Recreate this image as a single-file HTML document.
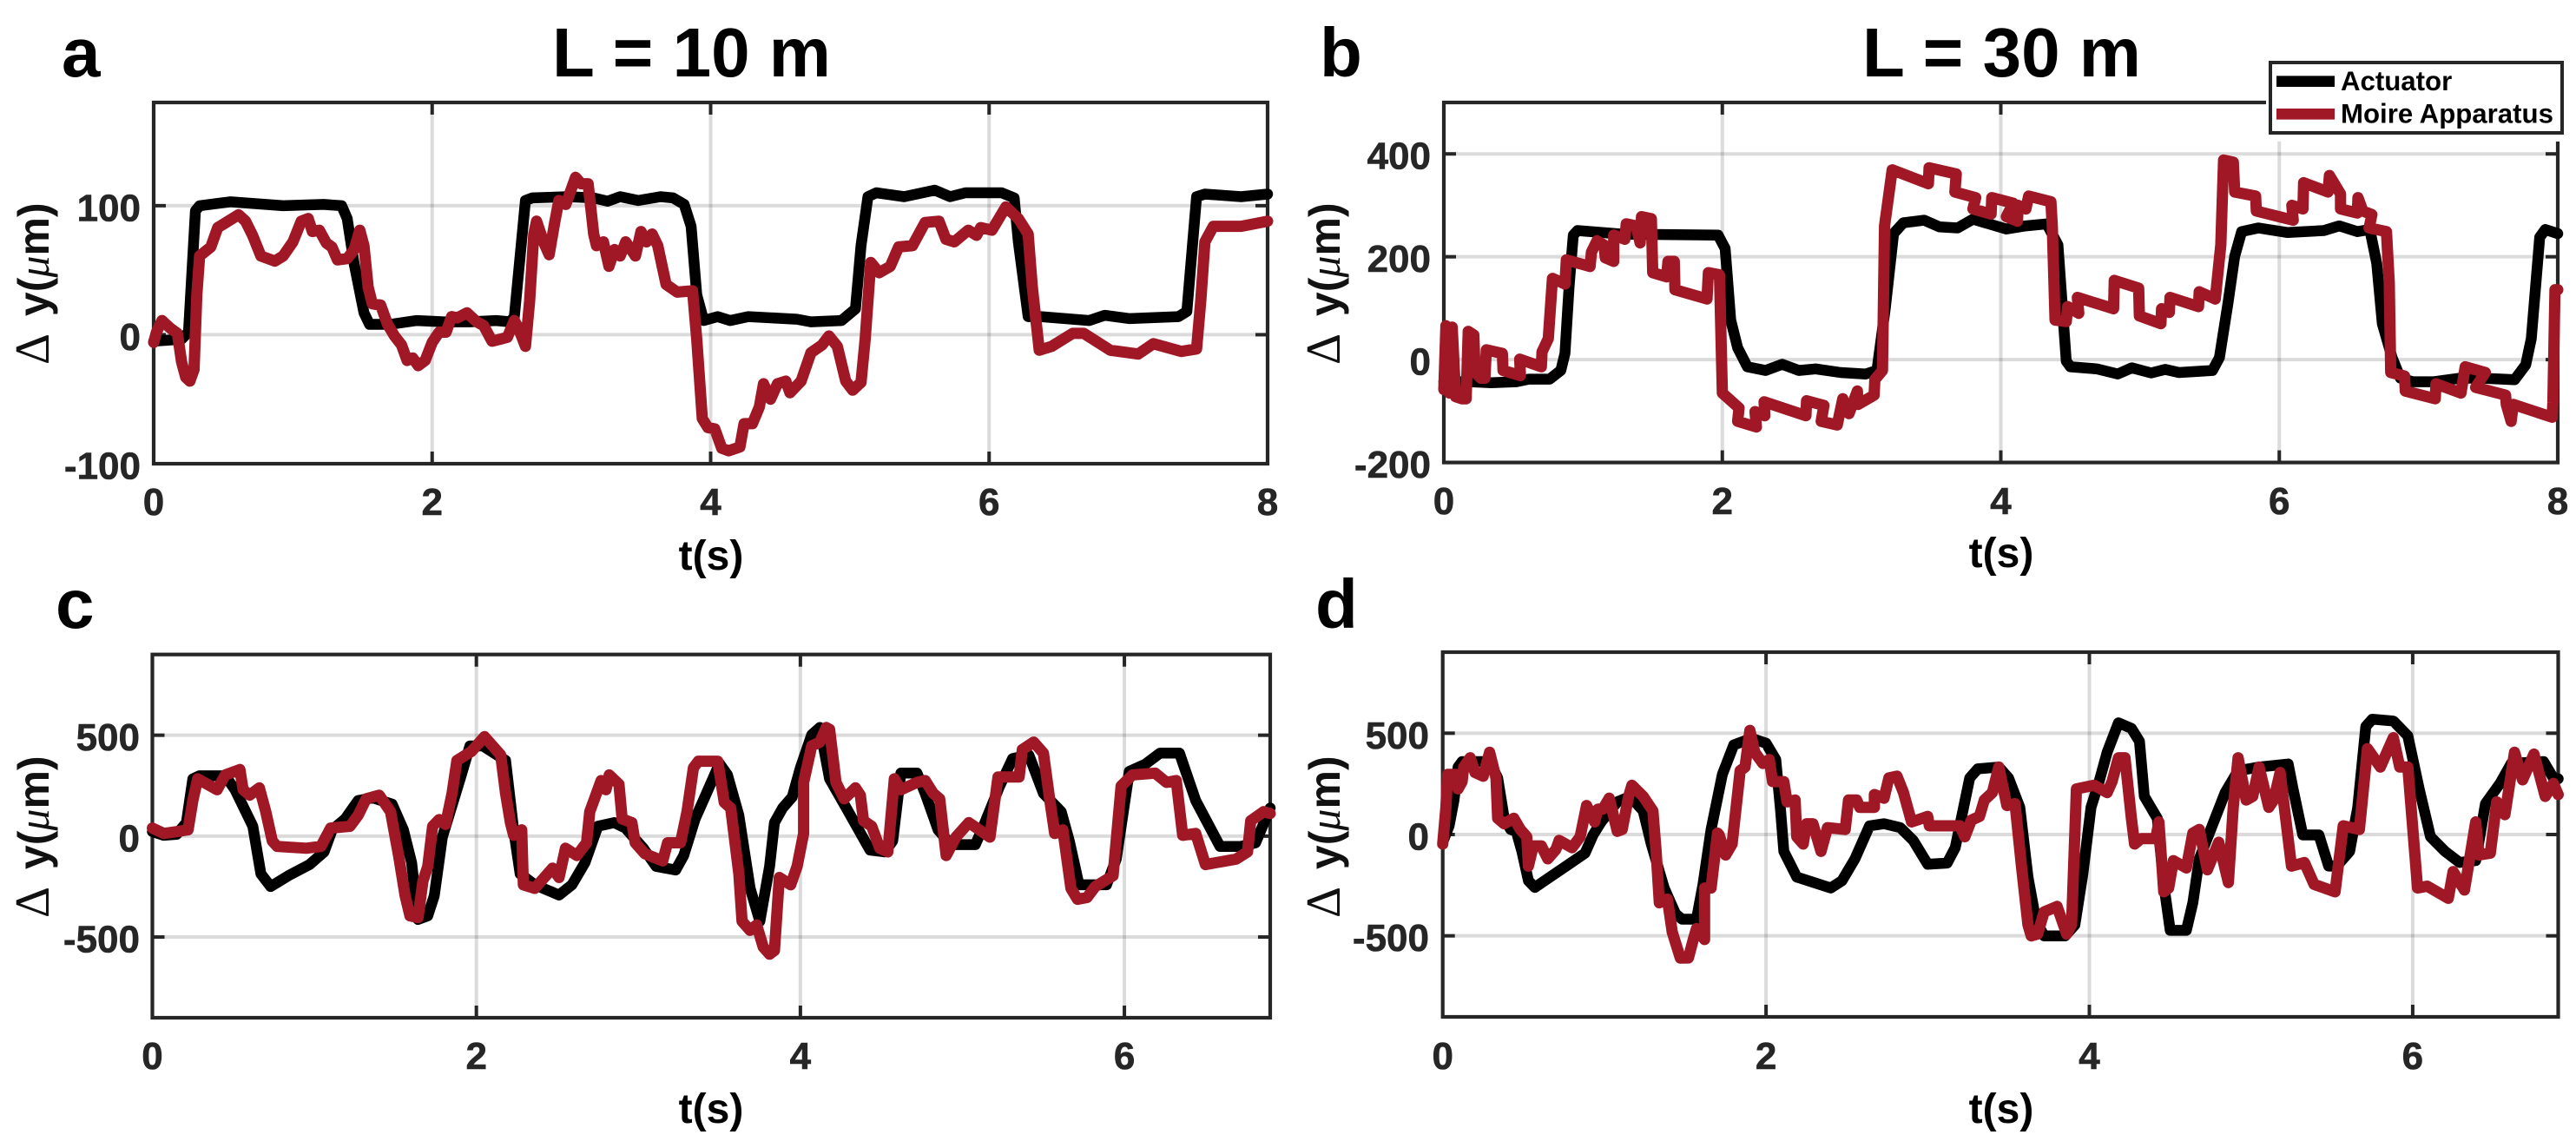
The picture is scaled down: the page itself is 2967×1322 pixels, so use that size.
<!DOCTYPE html>
<html lang="en">
<head>
<meta charset="utf-8">
<title>Actuator vs Moire Apparatus displacement</title>
<style>
html,body{margin:0;padding:0;background:#fff;}
svg{display:block;font-family:"Liberation Sans",Arial,sans-serif;}
.panel-letter{font-size:80px;font-weight:700;fill:#000;}
.panel-title{font-size:80px;font-weight:700;fill:#000;}
.x-title{font-size:48px;font-weight:700;fill:#000;text-anchor:middle;}
.y-title{font-size:50px;font-weight:700;fill:#111;text-anchor:start;}
.y-title .sym{font-family:"Liberation Serif",serif;font-weight:400;font-size:56px;}
.y-title .mu{font-family:"Liberation Serif",serif;font-style:italic;font-weight:400;}
.tick-text{font-size:44px;font-weight:700;fill:#262626;stroke:#262626;stroke-width:.6px;}
.legend-text{font-size:31.2px;font-weight:700;fill:#000;}
</style>
</head>
<body>
<svg id="chart" xmlns="http://www.w3.org/2000/svg" width="2967" height="1322" viewBox="0 0 2967 1322">
  <rect x="0" y="0" width="2967" height="1322" fill="#fff"/>
  <g id="plots"></g>

  <text class="panel-letter" x="71" y="88">a</text>
  <text class="panel-letter" x="1520" y="88">b</text>
  <text class="panel-letter" x="64" y="723">c</text>
  <text class="panel-letter" x="1515" y="723">d</text>
  <text class="panel-title" x="636" y="88">L = 10 m</text>
  <text class="panel-title" x="2145" y="88">L = 30 m</text>

  <text class="x-title" x="819" y="656">t(s)</text>
  <text class="x-title" x="2305" y="653">t(s)</text>
  <text class="x-title" x="819" y="1293">t(s)</text>
  <text class="x-title" x="2305" y="1293">t(s)</text>

  <text class="y-title" transform="translate(56,420) rotate(-90)"><tspan class="sym">Δ</tspan> <tspan dx="6">y(</tspan><tspan class="mu">μ</tspan>m)</text>
  <text class="y-title" transform="translate(1543,420) rotate(-90)"><tspan class="sym">Δ</tspan> <tspan dx="6">y(</tspan><tspan class="mu">μ</tspan>m)</text>
  <text class="y-title" transform="translate(56,1057) rotate(-90)"><tspan class="sym">Δ</tspan> <tspan dx="6">y(</tspan><tspan class="mu">μ</tspan>m)</text>
  <text class="y-title" transform="translate(1543,1057) rotate(-90)"><tspan class="sym">Δ</tspan> <tspan dx="6">y(</tspan><tspan class="mu">μ</tspan>m)</text>

  <g>
    <rect x="2610" y="64" width="357" height="99" fill="#fff"/>
    <rect x="2615" y="72" width="336" height="81" fill="#fff" stroke="#262626" stroke-width="4"/>
    <line x1="2622" y1="93.7" x2="2689" y2="93.7" stroke="#000" stroke-width="12.7"/>
    <text class="legend-text" x="2696" y="104">Actuator</text>
    <line x1="2622" y1="131.3" x2="2689" y2="131.3" stroke="#a01825" stroke-width="12.7"/>
    <text class="legend-text" x="2696" y="141.7">Moire Apparatus</text>
  </g>
</svg>
<script>
// ---- Panel a data ----
const aXTicks = [0, 2, 4, 6, 8];
const aYTicks = [-100, 0, 100];
const aActuatorT = [0,.20,.25,.30,.33,.55,.93,1.22,1.35,1.39,1.44,1.51,1.55,1.70,1.89,2.08,2.27,2.46,2.56,2.59,2.67,2.72,2.97,3.16,3.26,3.35,3.48,3.64,3.73,3.81,3.86,3.90,3.95,4.05,4.14,4.27,4.62,4.72,4.94,5.04,5.08,5.13,5.19,5.39,5.61,5.72,5.83,6.09,6.18,6.21,6.28,6.37,6.72,6.83,7.01,7.36,7.42,7.49,7.55,7.81,8];
const aActuatorV = [-5,-3.5,2,96,100,103,100,101,100,90,55,17,8,8,11,10,10,11,10,14,104,106,107,106,103.5,107,104,107,106,101,84,31,11,14,11,14,12,10,11,20,69,107,110,107,112,107,110,110,106,72,14,14,11,15,12.5,14,18,107,109,107,109];
const aMoireT = [0,.02,.06,.12,.17,.20,.23,.26,.29,.31,.33,.41,.46,.52,.61,.66,.71,.77,.87,.93,1.0,1.06,1.11,1.14,1.19,1.24,1.28,1.32,1.39,1.44,1.48,1.51,1.54,1.57,1.63,1.68,1.73,1.78,1.82,1.86,1.90,1.95,2.0,2.05,2.10,2.14,2.18,2.25,2.32,2.37,2.43,2.49,2.54,2.59,2.62,2.67,2.70,2.73,2.75,2.80,2.84,2.88,2.91,2.96,2.99,3.03,3.07,3.12,3.16,3.18,3.23,3.27,3.31,3.35,3.39,3.46,3.50,3.54,3.58,3.62,3.68,3.76,3.87,3.90,3.94,3.98,4.03,4.08,4.13,4.21,4.24,4.30,4.35,4.38,4.43,4.48,4.54,4.57,4.65,4.72,4.80,4.85,4.91,4.97,5.02,5.08,5.11,5.15,5.21,5.29,5.35,5.45,5.54,5.64,5.69,5.75,5.85,5.91,5.94,6.02,6.12,6.21,6.28,6.31,6.36,6.45,6.60,6.68,6.87,7.07,7.18,7.38,7.49,7.52,7.55,7.61,7.81,8];
const aMoireV = [-6,2,11,5,1,-21,-33,-36,-27,31,61,68,83,87,93,88,77,61,57,61,72,88,90,80,81,71,68,58,59,66,81,69,37,24,23,8,-1,-8,-20,-18,-24,-20,-6,2,2,14,13,17,10,7,-5,-3.5,-2,11,5,-9,26,78,88,72,62,87,104,101,110,122,117,117,78,69,72,53,66,61,72,61,80,72,78,69,39,33,34,-3.5,-65,-72,-73,-88,-90,-87,-69,-69,-56,-38,-50,-38,-36,-45,-36,-14,-8,-1,-9,-36,-43,-37,-3.5,56,48,53,68,69,87,88,74,72,81,77,83,81,99,90,78,37,-12,-9,1,1,-12,-15,-7,-13,-11,26,72,84,84,88];

// ---- Panel b data ----
const bXTicks = [0, 2, 4, 6, 8];
const bYTicks = [-200, 0, 200, 400];
const bActuatorT = [0,.19,.34,.52,.61,.76,.84,.87,.90,.93,.96,1.28,1.97,2.02,2.06,2.11,2.18,2.31,2.43,2.55,2.67,2.85,3.03,3.11,3.17,3.23,3.30,3.45,3.56,3.69,3.80,4.04,4.18,4.33,4.41,4.47,4.50,4.69,4.84,4.94,5.08,5.18,5.28,5.52,5.57,5.63,5.68,5.73,5.85,6.06,6.32,6.43,6.56,6.65,6.70,6.74,6.81,6.87,6.96,7.11,7.30,7.45,7.69,7.77,7.81,7.87,7.91,8];
const bActuatorV = [-43,-43,-45,-43,-38,-38,-21,12,143,242,251,244,242,216,77,23,-14,-21,-9,-21,-18,-25,-28,-21,99,245,266,271,258,256,273,254,260,264,223,-3,-14,-18,-28,-16,-26,-19,-25,-21,4,107,201,249,256,247,251,260,249,253,187,70,4,-36,-43,-43,-36,-36,-39,-10,41,238,253,245];
const bMoireT = [0,.015,.04,.06,.085,.13,.16,.175,.215,.225,.265,.295,.305,.42,.425,.55,.545,.70,.705,.75,.78,.87,.88,1.05,1.06,1.10,1.15,1.16,1.22,1.22,1.30,1.31,1.38,1.41,1.42,1.49,1.50,1.60,1.61,1.655,1.66,1.89,1.90,1.98,2.0,2.12,2.11,2.245,2.235,2.305,2.30,2.60,2.605,2.73,2.71,2.825,2.865,2.91,2.97,2.975,3.09,3.095,3.15,3.165,3.22,3.48,3.485,3.68,3.67,3.82,3.80,3.93,3.935,4.09,4.04,4.12,4.125,4.18,4.20,4.36,4.37,4.39,4.47,4.48,4.56,4.55,4.81,4.815,4.99,4.995,5.15,5.155,5.21,5.215,5.42,5.425,5.54,5.58,5.60,5.67,5.68,5.83,5.835,6.10,6.09,6.17,6.175,6.35,6.36,6.44,6.44,6.56,6.565,6.60,6.665,6.645,6.77,6.79,6.80,6.90,6.905,7.12,7.125,7.305,7.335,7.48,7.41,7.625,7.63,7.665,7.68,7.96,7.965,7.98,8];
const bMoireV = [-58,66,-65,63,-72,-76,-76,55,48,-25,-36,-36,19,12,-21,-31,1,-14,15,41,158,147,194,181,209,231,223,198,191,242,234,264,260,227,278,274,169,161,191,191,136,118,169,165,-65,-94,-120,-131,-101,-109,-82,-109,-80,-89,-120,-127,-76,-105,-61,-87,-69,-39,-21,260,369,342,373,361,326,315,293,283,315,304,278,269,300,293,318,307,260,77,74,103,90,121,99,154,139,85,70,99,92,121,103,132,118,223,388,384,326,318,289,271,300,293,344,326,358,322,293,285,315,289,282,256,249,150,-25,-32,-61,-76,-47,-65,-14,-25,-54,-69,-87,-120,-87,-112,-83,136,136];

// ---- Panel c data ----
const cXTicks = [0, 2, 4, 6];
const cYTicks = [-500, 0, 500];
const cActuatorT = [0,.07,.15,.21,.25,.29,.45,.51,.62,.67,.73,.84,.97,1.06,1.11,1.19,1.27,1.36,1.48,1.55,1.60,1.64,1.70,1.74,1.79,1.90,1.96,2.04,2.18,2.23,2.27,2.36,2.51,2.59,2.67,2.75,2.85,2.92,3.03,3.11,3.23,3.28,3.35,3.41,3.48,3.50,3.55,3.62,3.69,3.75,3.81,3.84,3.89,3.95,4.0,4.07,4.12,4.18,4.27,4.43,4.52,4.57,4.62,4.72,4.77,4.85,4.93,5.08,5.13,5.23,5.31,5.41,5.50,5.61,5.66,5.72,5.89,5.95,6.03,6.13,6.22,6.34,6.44,6.59,6.72,6.81,6.9];
const cActuatorV = [22,4,9,67,284,299,299,230,49,-187,-250,-196,-141,-78,31,85,176,190,158,31,-132,-413,-395,-295,-5,284,447,447,375,31,-187,-241,-292,-241,-132,49,67,40,-60,-150,-168,-96,85,194,321,360,303,103,-259,-422,-150,67,139,194,339,502,538,284,158,-69,-78,-24,312,312,212,31,-42,-42,49,248,384,402,212,121,-24,-241,-241,-114,321,357,411,411,176,-51,-51,-33,139];
const cMoireT = [0,.07,.15,.22,.25,.28,.40,.45,.54,.56,.60,.66,.70,.74,.77,.95,1.04,1.10,1.22,1.27,1.32,1.40,1.47,1.52,1.56,1.59,1.64,1.67,1.70,1.73,1.77,1.81,1.85,1.88,1.97,2.05,2.15,2.18,2.21,2.23,2.28,2.29,2.36,2.47,2.51,2.55,2.62,2.68,2.70,2.77,2.80,2.82,2.88,2.90,2.96,2.98,3.04,3.15,3.18,3.26,3.30,3.34,3.37,3.49,3.53,3.57,3.62,3.64,3.69,3.73,3.77,3.81,3.84,3.87,3.94,3.98,4.02,4.02,4.07,4.12,4.16,4.18,4.22,4.27,4.34,4.37,4.39,4.44,4.49,4.54,4.58,4.62,4.72,4.77,4.82,4.86,4.90,4.96,5.04,5.17,5.22,5.35,5.37,5.44,5.50,5.54,5.57,5.62,5.67,5.71,5.77,5.82,5.93,5.98,6.05,6.19,6.26,6.32,6.36,6.44,6.50,6.69,6.76,6.78,6.86,6.9];
const cMoireV = [40,13,22,31,176,284,230,303,330,230,203,239,121,-24,-51,-60,-51,40,49,103,185,203,121,-96,-295,-395,-404,-223,-150,49,82,58,212,375,420,493,402,212,67,4,31,-241,-259,-159,-205,-60,-96,-33,121,275,230,303,257,85,67,-33,-87,-123,-33,-33,121,339,371,371,167,139,-187,-422,-467,-440,-549,-585,-567,-205,-241,-150,13,266,447,466,538,529,266,185,239,203,76,49,-60,-78,284,230,266,275,212,185,-96,-5,67,-5,293,293,429,466,411,176,13,31,-259,-313,-304,-250,-196,248,303,312,266,275,4,13,-141,-114,-78,76,121,112];

// ---- Panel d data ----
const dXTicks = [0, 2, 4, 6];
const dYTicks = [-500, 0, 500];
const dActuatorT = [0,.04,.07,.095,.12,.29,.34,.38,.42,.455,.49,.53,.57,.78,.88,.93,.98,1.08,1.16,1.24,1.29,1.37,1.44,1.48,1.57,1.61,1.66,1.73,1.80,1.91,2.0,2.06,2.09,2.11,2.19,2.40,2.47,2.55,2.64,2.73,2.83,2.91,3.0,3.12,3.17,3.26,3.31,3.44,3.50,3.57,3.62,3.67,3.72,3.85,3.91,3.96,4.01,4.06,4.11,4.18,4.26,4.31,4.34,4.42,4.46,4.50,4.60,4.64,4.68,4.84,4.92,5.05,5.23,5.26,5.32,5.42,5.48,5.53,5.61,5.66,5.71,5.75,5.88,5.97,6.04,6.11,6.20,6.29,6.39,6.45,6.54,6.61,6.81,6.87,6.9];
const dActuatorV = [-38,43,170,333,360,360,279,80,25,16,-83,-228,-261,-147,-92,-2,62,161,188,116,-47,-264,-391,-418,-418,-246,25,297,442,475,451,370,116,-83,-210,-264,-228,-120,43,53,34,-29,-147,-141,-65,279,324,333,279,134,-210,-428,-500,-500,-446,-192,134,261,406,551,524,460,188,80,-246,-473,-473,-337,-120,207,315,333,348,225,-2,-2,-156,-156,-83,134,533,569,560,487,225,-11,-83,-138,-129,152,252,351,360,279,275];
const dMoireT = [0,.02,.03,.08,.095,.12,.13,.17,.20,.25,.29,.33,.34,.38,.44,.48,.52,.53,.56,.61,.65,.70,.72,.80,.85,.89,.94,.96,.99,1.03,1.08,1.11,1.15,1.17,1.24,1.30,1.32,1.34,1.39,1.42,1.47,1.52,1.55,1.57,1.62,1.62,1.66,1.70,1.71,1.75,1.79,1.84,1.87,1.90,1.93,1.98,2.02,2.04,2.11,2.13,2.18,2.19,2.23,2.25,2.29,2.34,2.38,2.49,2.51,2.56,2.58,2.67,2.67,2.73,2.76,2.81,2.85,2.90,3.0,3.01,3.20,3.23,3.27,3.32,3.35,3.40,3.44,3.49,3.54,3.58,3.62,3.64,3.68,3.72,3.80,3.86,3.89,3.92,4.03,4.11,4.14,4.18,4.22,4.26,4.28,4.32,4.41,4.43,4.46,4.49,4.52,4.60,4.64,4.68,4.73,4.80,4.86,4.89,4.92,4.97,5.01,5.05,5.11,5.14,5.18,5.25,5.33,5.39,5.52,5.57,5.67,5.72,5.80,5.88,5.92,5.97,6.03,6.09,6.22,6.25,6.32,6.39,6.41,6.48,6.52,6.57,6.63,6.68,6.75,6.82,6.87,6.9];
const dMoireV = [-47,134,297,297,225,261,333,379,306,288,406,279,80,53,80,25,-11,-156,-56,-56,-120,-74,-29,-65,-11,143,62,125,125,179,16,25,188,243,188,116,-83,-337,-319,-482,-610,-609,-518,-464,-518,-264,-264,7,-2,-101,-47,315,333,514,406,351,370,261,261,161,170,-11,-47,53,53,-83,34,25,170,170,134,134,197,179,279,288,207,62,89,43,43,-11,71,89,170,207,333,143,152,-156,-446,-500,-491,-382,-355,-491,-446,225,243,207,261,379,379,80,-47,-20,-20,62,-283,-264,-129,-165,7,25,-174,-38,-237,134,379,170,188,333,134,170,306,-156,-138,-246,-283,43,25,424,333,478,333,333,-264,-255,-315,-183,-274,62,-101,-92,161,98,406,270,397,188,252,197];

// ---- Layout (pixel boxes belong here, not in the data arrays) ----
const NS = 'http://www.w3.org/2000/svg';
const FRAME = '#262626';
const RED = '#a01825';
const plots = document.getElementById('plots');

function makePanel(id, box, xDomain, yDomain, xTicks, yTicks, actT, actV, moiT, moiV, labelRight, xLabelBase) {
  const g = document.createElementNS(NS, 'g');
  
  
  plots.appendChild(g);

  const xScale = function (t) { return box.left + (t - xDomain[0]) / (xDomain[1] - xDomain[0]) * (box.right - box.left); };
  const yScale = function (v) { return box.bottom - (v - yDomain[0]) / (yDomain[1] - yDomain[0]) * (box.bottom - box.top); };

  xTicks.forEach(function (t) {
    const x = xScale(t);
    if (t > xDomain[0] && t < xDomain[1]) {
      const grid = document.createElementNS(NS, 'line');
      
      
      grid.setAttribute('x1', x); grid.setAttribute('x2', x);
      grid.setAttribute('y1', box.top); grid.setAttribute('y2', box.bottom);
      grid.setAttribute('stroke', '#000'); grid.setAttribute('stroke-opacity', '0.14');
      grid.setAttribute('stroke-width', '4');
      g.appendChild(grid);
      [[box.top, box.top + 14], [box.bottom - 14, box.bottom]].forEach(function (p) {
        const tick = document.createElementNS(NS, 'line');
        
        
        tick.setAttribute('x1', x); tick.setAttribute('x2', x);
        tick.setAttribute('y1', p[0]); tick.setAttribute('y2', p[1]);
        tick.setAttribute('stroke', FRAME); tick.setAttribute('stroke-width', '4');
        g.appendChild(tick);
      });
    }
    const label = document.createElementNS(NS, 'text');
    
    
    label.setAttribute('class', 'tick-text');
    label.setAttribute('x', x);
    label.setAttribute('y', xLabelBase);
    label.setAttribute('text-anchor', 'middle');
    label.textContent = String(t);
    g.appendChild(label);
  });

  yTicks.forEach(function (v) {
    const y = yScale(v);
    if (v > yDomain[0] && v < yDomain[1]) {
      const grid = document.createElementNS(NS, 'line');
      
      
      grid.setAttribute('x1', box.left); grid.setAttribute('x2', box.right);
      grid.setAttribute('y1', y); grid.setAttribute('y2', y);
      grid.setAttribute('stroke', '#000'); grid.setAttribute('stroke-opacity', '0.14');
      grid.setAttribute('stroke-width', '4');
      g.appendChild(grid);
      [[box.left, box.left + 14], [box.right - 14, box.right]].forEach(function (p) {
        const tick = document.createElementNS(NS, 'line');
        
        
        tick.setAttribute('x1', p[0]); tick.setAttribute('x2', p[1]);
        tick.setAttribute('y1', y); tick.setAttribute('y2', y);
        tick.setAttribute('stroke', FRAME); tick.setAttribute('stroke-width', '4');
        g.appendChild(tick);
      });
    }
    const label = document.createElementNS(NS, 'text');
    
    
    label.setAttribute('class', 'tick-text');
    label.setAttribute('x', labelRight);
    label.setAttribute('y', y + 17.5);
    label.setAttribute('text-anchor', 'end');
    label.textContent = String(v);
    g.appendChild(label);
  });

  const frame = document.createElementNS(NS, 'rect');
  
  
  frame.setAttribute('x', box.left);
  frame.setAttribute('y', box.top);
  frame.setAttribute('width', box.right - box.left);
  frame.setAttribute('height', box.bottom - box.top);
  frame.setAttribute('fill', 'none');
  frame.setAttribute('stroke', FRAME);
  frame.setAttribute('stroke-width', '4.2');
  g.appendChild(frame);

  const toPath = function (ts, vs) {
    return ts.map(function (t, i) {
      return (i ? 'L' : 'M') + xScale(t).toFixed(1) + ' ' + yScale(vs[i]).toFixed(1);
    }).join(' ');
  };

  const actuator = document.createElementNS(NS, 'path');
  
  
  actuator.setAttribute('d', toPath(actT, actV));
  actuator.setAttribute('fill', 'none');
  actuator.setAttribute('stroke', '#000');
  actuator.setAttribute('stroke-width', '12.5');
  actuator.setAttribute('stroke-linejoin', 'round');
  actuator.setAttribute('stroke-linecap', 'round');
  g.appendChild(actuator);

  const moire = document.createElementNS(NS, 'path');
  
  
  moire.setAttribute('d', toPath(moiT, moiV));
  moire.setAttribute('fill', 'none');
  moire.setAttribute('stroke', RED);
  moire.setAttribute('stroke-width', '13');
  moire.setAttribute('stroke-linejoin', 'round');
  moire.setAttribute('stroke-linecap', 'round');
  g.appendChild(moire);
}

makePanel('a', {left:177, right:1460, top:118, bottom:534}, [0,8], [-100,180], aXTicks, aYTicks, aActuatorT, aActuatorV, aMoireT, aMoireV, 162, 593);
makePanel('b', {left:1663, right:2946, top:118, bottom:532.6}, [0,8], [-200,500], bXTicks, bYTicks, bActuatorT, bActuatorV, bMoireT, bMoireV, 1648, 592);
makePanel('c', {left:175.5, right:1463, top:753.7, bottom:1172}, [0,6.9], [-900,900], cXTicks, cYTicks, cActuatorT, cActuatorV, cMoireT, cMoireV, 161, 1231);
makePanel('d', {left:1661.7, right:2946.5, top:751, bottom:1171}, [0,6.9], [-900,900], dXTicks, dYTicks, dActuatorT, dActuatorV, dMoireT, dMoireV, 1646, 1231);
</script>
</body>
</html>
